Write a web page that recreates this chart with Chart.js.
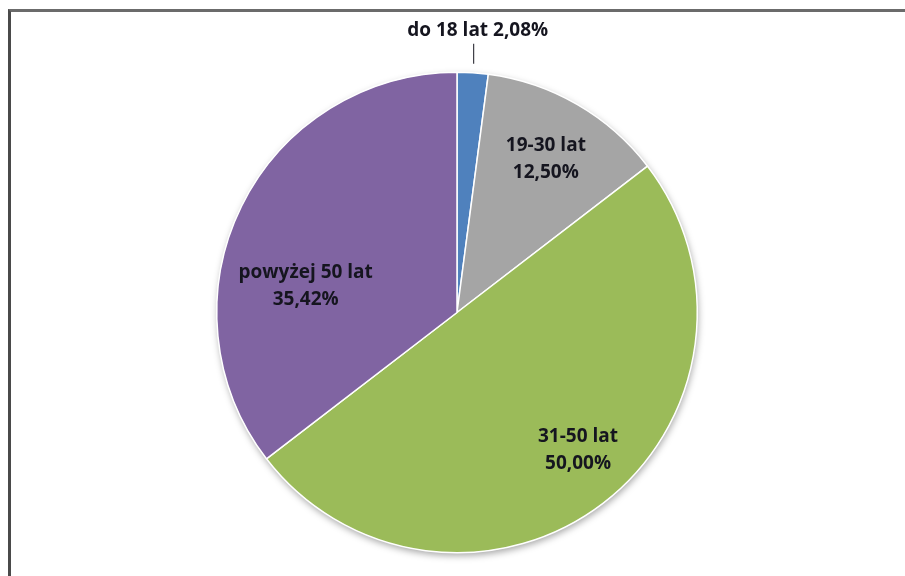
<!DOCTYPE html>
<html lang="pl">
<head>
    <meta charset="UTF-8">
    <title>Wiek</title>
    <script src="https://cdn.jsdelivr.net/npm/chart.js"></script>
    <style>
        html, body {
            margin: 0;
            padding: 0;
            background: #ffffff;
            overflow: hidden;
        }
        .frame {
            position: absolute;
            left: 8px;
            top: 9px;
            width: 1000px;
            height: 700px;
            border-top: 3px solid #6b6b6b;
            border-left: 3px solid #4a4a4a;
        }
        .chart-container {
            position: absolute;
            left: 0;
            top: 0;
            width: 905px;
            height: 576px;
        }
    </style>
</head>
<body>
    <div class="frame"></div>
    <div class="chart-container">
        <canvas id="ageChart"></canvas>
    </div>

    <script>
        // Data
        const categories = ['do 18 lat', '19-30 lat', '31-50 lat', 'powyżej 50 lat'];
        const shares = [2.08, 12.50, 50.00, 35.42];
        const sliceColors = ['#4f81bd', '#a5a5a5', '#9bbb59', '#8064a2'];

        // label placement: radius factor and angle shift (deg) from slice middle
        const labelRadius = [0, 0.74, 0.76, 0.64];
        const labelShift = [0, 0, -4, -16];

        const fmt = v => v.toFixed(2).replace('.', ',') + '%';

        const pieShadow = {
            id: 'pieShadow',
            beforeDatasetsDraw(chart) {
                const arc = chart.getDatasetMeta(0).data[0];
                if (!arc) return;
                const ctx = chart.ctx;
                ctx.save();
                ctx.shadowColor = 'rgba(0,0,0,0.35)';
                ctx.shadowBlur = 7;
                ctx.shadowOffsetX = 1;
                ctx.shadowOffsetY = 3;
                ctx.fillStyle = '#ffffff';
                ctx.beginPath();
                ctx.arc(arc.x, arc.y, arc.outerRadius, 0, Math.PI * 2);
                ctx.fill();
                ctx.restore();
            }
        };

        const sliceLabels = {
            id: 'sliceLabels',
            afterDatasetsDraw(chart) {
                const ctx = chart.ctx;
                const arcs = chart.getDatasetMeta(0).data;
                ctx.save();
                ctx.font = 'bold 19px "Open Sans", Lato, sans-serif';
                ctx.fillStyle = '#15151f';
                ctx.textAlign = 'center';
                ctx.textBaseline = 'middle';
                arcs.forEach((arc, i) => {
                    const mid = (arc.startAngle + arc.endAngle) / 2;
                    if (i === 0) {
                        // small slice: label above the pie with a leader line
                        const ex = arc.x + arc.outerRadius * Math.cos(mid);
                        const ey = arc.y + arc.outerRadius * Math.sin(mid);
                        ctx.strokeStyle = '#15151f';
                        ctx.lineWidth = 1;
                        ctx.beginPath();
                        ctx.moveTo(ex + 1, ey - 9);
                        ctx.lineTo(ex + 1, ey - 29);
                        ctx.stroke();
                        ctx.fillText(categories[i] + ' ' + fmt(shares[i]), ex + 5, ey - 42);
                        return;
                    }
                    const a = mid + labelShift[i] * Math.PI / 180;
                    const r = arc.outerRadius * labelRadius[i];
                    const x = arc.x + r * Math.cos(a);
                    const y = arc.y + r * Math.sin(a);
                    ctx.fillText(categories[i], x, y - 13);
                    ctx.fillText(fmt(shares[i]), x, y + 14);
                });
                ctx.restore();
            }
        };

        new Chart(document.getElementById('ageChart'), {
            type: 'pie',
            data: {
                labels: categories,
                datasets: [{
                    data: shares,
                    backgroundColor: sliceColors,
                    borderColor: '#ffffff',
                    borderWidth: 1.5
                }]
            },
            options: {
                responsive: true,
                maintainAspectRatio: false,
                animation: false,
                layout: {
                    padding: { top: 71, bottom: 22, left: 216, right: 207 }
                },
                plugins: {
                    legend: { display: false },
                    tooltip: { enabled: false }
                }
            },
            plugins: [pieShadow, sliceLabels]
        });
    </script>
</body>
</html>
